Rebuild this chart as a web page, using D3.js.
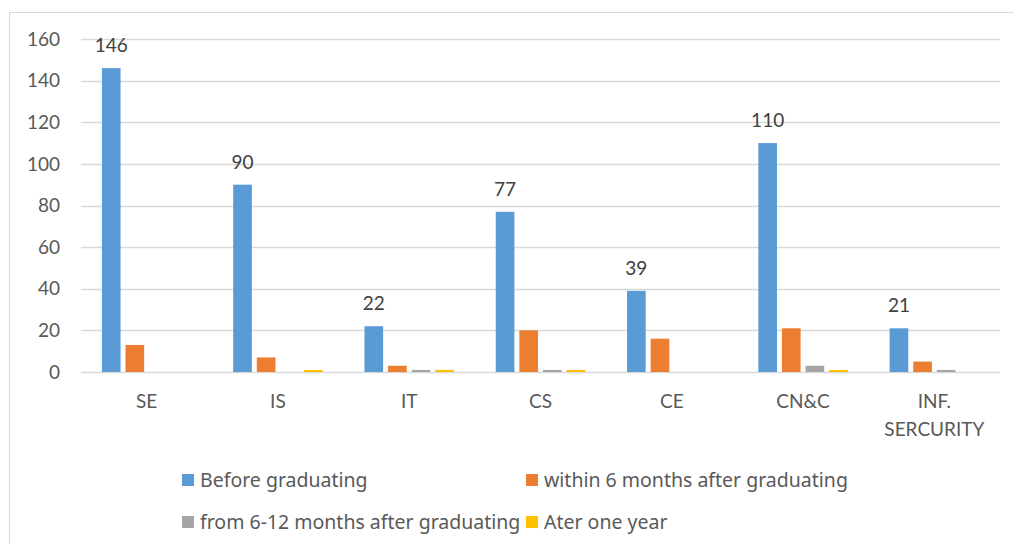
<!DOCTYPE html>
<html>
<head>
<meta charset="utf-8">
<script src="https://cdn.jsdelivr.net/npm/d3@7"></script>
<style>
  body { margin: 0; background: #fff; }
  text { font-family: Lato, "Noto Sans", sans-serif; }
  .legend text { font-family: "Noto Sans", Lato, sans-serif; }
</style>
</head>
<body>
<svg id="chart"></svg>
<script>
// Data
const majors = ["SE", "IS", "IT", "CS", "CE", "CN&C", "INF. SERCURITY"];
const seriesNames = ["Before graduating", "within 6 months after graduating",
  "from 6-12 months after graduating", "Ater one year"];
const beforeGrad = [146, 90, 22, 77, 39, 110, 21];
const within6 = [13, 7, 3, 20, 16, 21, 5];
const from6to12 = [0, 0, 1, 1, 0, 3, 1];
const afterYear = [0, 1, 1, 1, 0, 1, 0];
const yTicks = [0, 20, 40, 60, 80, 100, 120, 140, 160];

const seriesValues = [beforeGrad, within6, from6to12, afterYear];
const colors = ["#5b9bd5", "#ed7d31", "#a5a5a5", "#ffc000"];

// Dimensions
const Width = 1014;
const Height = 544;
const plot = { left: 81, right: 1000, top: 39, bottom: 372 };

const svg = d3.select("#chart")
  .attr("width", Width)
  .attr("height", Height);

// Chart frame
svg.append("rect")
  .attr("x", 9.5).attr("y", 12.5)
  .attr("width", 1012).attr("height", 540)
  .attr("fill", "#fff")
  .attr("stroke", "#d9d9d9");

// Scales
const yScale = d3.scaleLinear()
  .domain([0, 160])
  .range([plot.bottom, plot.top]);

const x0 = d3.scaleBand()
  .domain(majors)
  .range([plot.left, plot.right]);

const x1 = d3.scaleBand()
  .domain(seriesNames)
  .range([0, x0.bandwidth()])
  .paddingInner(0.21)
  .paddingOuter(0.885);

// Gridlines
svg.append("g")
  .selectAll("line")
  .data(yTicks)
  .enter()
  .append("line")
  .attr("x1", plot.left).attr("x2", plot.right)
  .attr("y1", d => Math.round(yScale(d)) + 0.5)
  .attr("y2", d => Math.round(yScale(d)) + 0.5)
  .attr("stroke", "#d9d9d9")
  .attr("stroke-width", 1.3);

// Y tick labels
svg.append("g")
  .selectAll("text")
  .data(yTicks)
  .enter()
  .append("text")
  .attr("x", 60)
  .attr("y", d => yScale(d))
  .attr("dy", "0.35em")
  .attr("text-anchor", "end")
  .attr("font-size", 19)
  .attr("fill", "#595959")
  .text(d => d);

// Bars
const groups = svg.selectAll("g.group")
  .data(majors)
  .enter()
  .append("g")
  .attr("class", "group")
  .attr("transform", d => `translate(${x0(d)},0)`);

groups.selectAll("rect")
  .data((d, i) => seriesNames.map((s, j) => ({ s: s, v: seriesValues[j][i], c: colors[j] })))
  .enter()
  .append("rect")
  .attr("x", d => x1(d.s))
  .attr("width", x1.bandwidth())
  .attr("y", d => yScale(d.v))
  .attr("height", d => yScale(0) - yScale(d.v))
  .attr("fill", d => d.c);

// Value labels on first series
groups.append("text")
  .attr("x", x1(seriesNames[0]) + x1.bandwidth() / 2)
  .attr("y", (d, i) => yScale(beforeGrad[i]) - 16)
  .attr("text-anchor", "middle")
  .attr("font-size", 19)
  .attr("fill", "#404040")
  .text((d, i) => beforeGrad[i]);

// X labels
svg.append("g")
  .selectAll("text")
  .data(majors)
  .enter()
  .append("text")
  .attr("x", d => x0(d) + x0.bandwidth() / 2)
  .attr("y", 408)
  .attr("text-anchor", "middle")
  .attr("font-size", 19)
  .attr("fill", "#595959")
  .each(function(d) {
    const parts = d.split(" ");
    d3.select(this).selectAll("tspan")
      .data(parts)
      .enter()
      .append("tspan")
      .attr("x", x0(d) + x0.bandwidth() / 2)
      .attr("dy", (p, k) => k === 0 ? 0 : 28)
      .text(p => p);
  });

// Legend
const legendItems = [
  { x: 182, y: 480 }, { x: 526, y: 480 },
  { x: 182, y: 522 }, { x: 526, y: 522 }
];

const legend = svg.selectAll("g.legend")
  .data(seriesNames)
  .enter()
  .append("g")
  .attr("class", "legend")
  .attr("transform", (d, i) => `translate(${legendItems[i].x},${legendItems[i].y})`);

legend.append("rect")
  .attr("x", 0).attr("y", -6)
  .attr("width", 12).attr("height", 12)
  .attr("fill", (d, i) => colors[i]);

legend.append("text")
  .attr("x", 18)
  .attr("dy", "0.35em")
  .attr("font-size", 19.5)
  .attr("fill", "#595959")
  .text(d => d);
</script>
</body>
</html>
